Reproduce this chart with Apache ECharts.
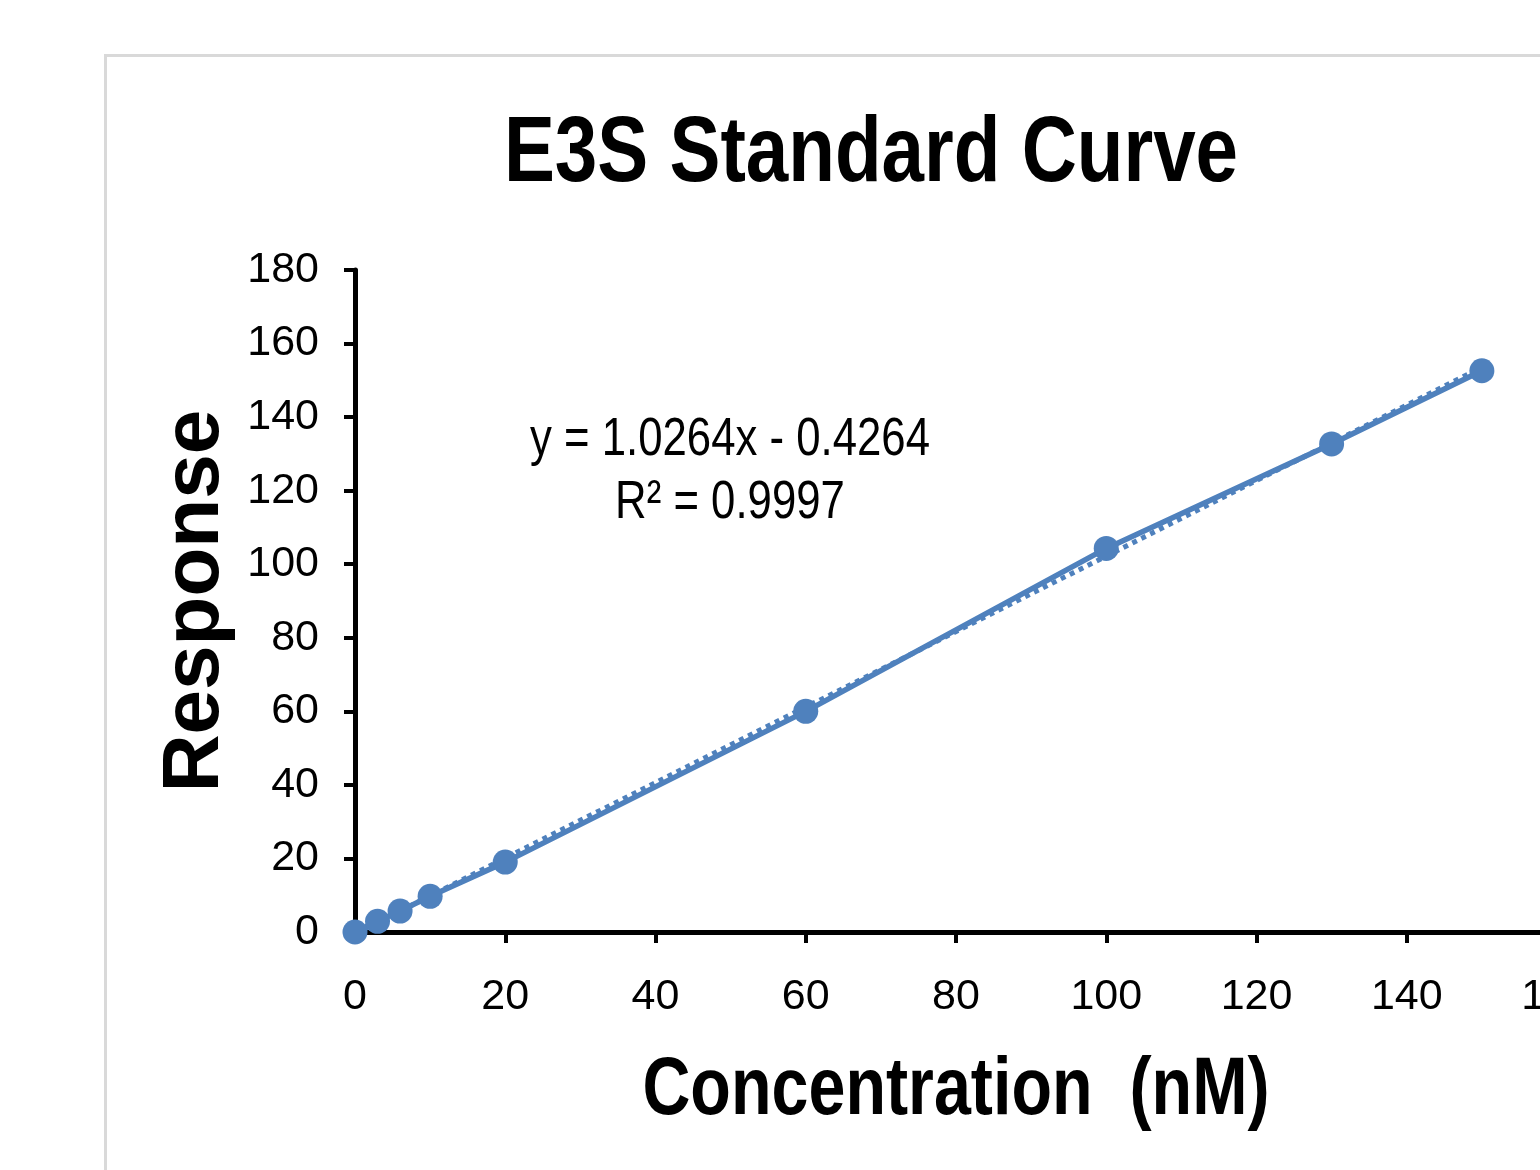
<!DOCTYPE html>
<html>
<head>
<meta charset="utf-8">
<script src="https://cdn.jsdelivr.net/npm/echarts@6/dist/echarts.min.js"></script>
<style>
  html, body { margin: 0; padding: 0; background: #ffffff; }
  #chart { width: 1540px; height: 1170px; }
</style>
</head>
<body>
<div id="chart"></div>
<script>
// ---- data ----
const concentration = [0, 3, 6, 10, 20, 60, 100, 130, 150];
const response = [0, 2.9, 5.7, 9.7, 19, 60, 104.3, 132.7, 152.6];
// linear trendline endpoints (y = 1.0264x - 0.4264)
const trendX = [0, 150];
const trendY = [-0.43, 153.53];
const equationText = 'y = 1.0264x - 0.4264';
const r2Text = 'R² = 0.9997';
const titleText = 'E3S Standard Curve';
const xName = 'Concentration  (nM)';
const yName = 'Response';
const xTicks = { min: 0, max: 160, interval: 20 };
const yTicks = { min: 0, max: 180, interval: 20 };

const SANS = '"Liberation Sans", Arial, sans-serif';
const BLUE = '#4f81bd';

const chart = echarts.init(document.getElementById('chart'), null, { renderer: 'canvas' });

const mainData = concentration.map((x, i) => [x, response[i]]);
const trendData = trendX.map((x, i) => [x, trendY[i]]);

function narrowText(x, y, text, size, weight, vAlign, sx) {
  return {
    type: 'text',
    x: x, y: y,
    scaleX: sx,
    silent: true,
    style: {
      x: 0, y: 0, text: text,
      textAlign: 'center', textVerticalAlign: vAlign || 'middle',
      fontFamily: SANS, fontSize: size, fontWeight: weight || 'normal',
      fill: '#000'
    }
  };
}

chart.setOption({
  animation: false,
  backgroundColor: '#ffffff',
  grid: { left: 355, top: 270, width: 1202, height: 662, containLabel: false, outerBoundsMode: 'none' },
  xAxis: {
    type: 'value',
    min: xTicks.min, max: xTicks.max, interval: xTicks.interval,
    axisLine: { show: true, lineStyle: { color: '#000', width: 5 } },
    axisTick: { show: true, inside: false, length: 11, lineStyle: { color: '#000', width: 4 } },
    axisLabel: { margin: 44, fontFamily: SANS, fontSize: 43, color: '#000' },
    splitLine: { show: false }
  },
  yAxis: {
    type: 'value',
    min: yTicks.min, max: yTicks.max, interval: yTicks.interval,
    name: yName,
    nameLocation: 'middle',
    nameGap: 105,
    nameRotate: 90,
    nameTextStyle: { fontFamily: SANS, fontWeight: 'bold', fontSize: 80, color: '#000' },
    axisLine: { show: true, lineStyle: { color: '#000', width: 5 } },
    axisTick: { show: true, inside: false, length: 11, lineStyle: { color: '#000', width: 4 } },
    axisLabel: { margin: 36, fontFamily: SANS, fontSize: 43, color: '#000' },
    splitLine: { show: false }
  },
  graphic: [
    {
      type: 'rect',
      shape: { x: 105.5, y: 55.5, width: 1600, height: 1300 },
      style: { fill: 'none', stroke: '#d9d9d9', lineWidth: 3 },
      z: -10, silent: true
    },
    narrowText(871, 110, titleText, 92, 'bold', 'top', 0.83),
    narrowText(956, 1050, xName, 82, 'bold', 'top', 0.81),
    narrowText(730, 440, equationText, 54, 'normal', 'middle', 0.81),
    narrowText(730, 503, r2Text, 54, 'normal', 'middle', 0.81)
  ],
  series: [
    {
      name: 'Trendline',
      type: 'line',
      data: trendData,
      symbol: 'none',
      lineStyle: { color: BLUE, width: 5, type: 'dotted' },
      z: 2
    },
    {
      name: 'Response',
      type: 'line',
      data: mainData,
      symbol: 'circle',
      symbolSize: 25,
      itemStyle: { color: BLUE },
      lineStyle: { color: BLUE, width: 5.5 },
      z: 3
    }
  ]
});
</script>
</body>
</html>
